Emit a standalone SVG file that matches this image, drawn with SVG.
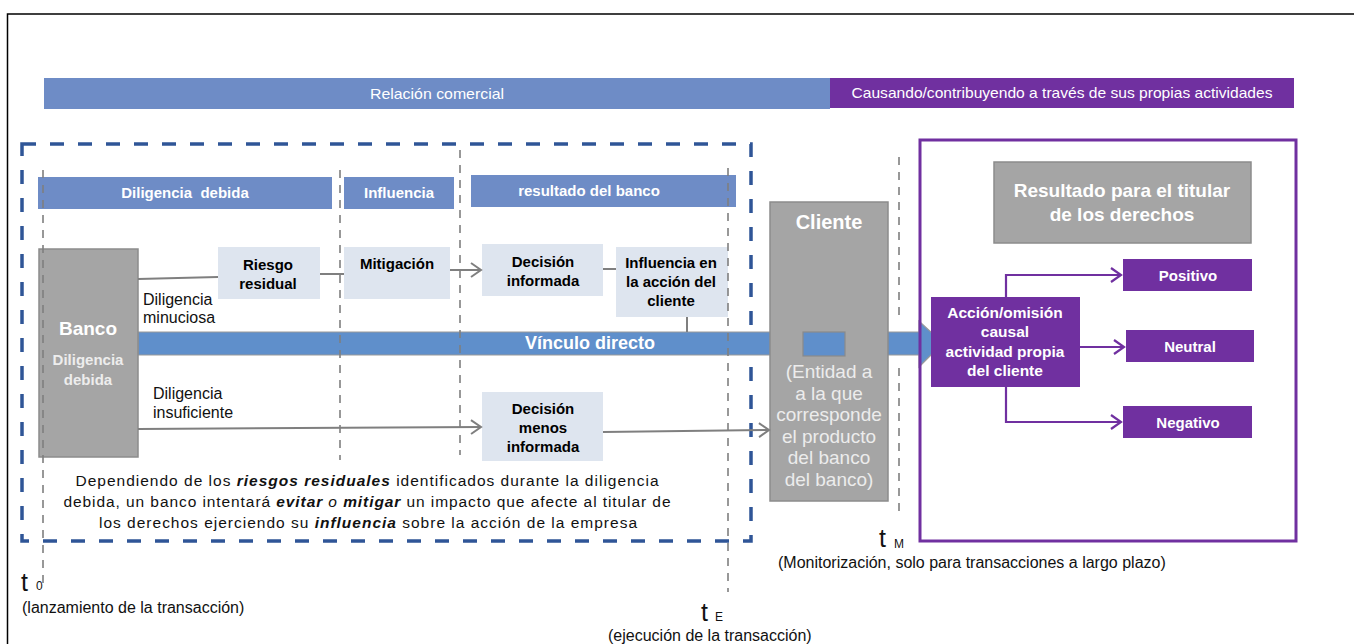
<svg xmlns="http://www.w3.org/2000/svg" width="1354" height="644" viewBox="0 0 1354 644">
<style>
text{font-family:"Liberation Sans",Arial,sans-serif}
.hb{fill:#6E8CC6}
.lb{fill:#DEE5EF}
.gb{fill:#A5A5A5;stroke:#8C8C8C;stroke-width:1.5}
.pb{fill:#7030A0}
.wt{fill:#fff;font-weight:bold;font-size:15px;text-anchor:middle}
.wr{fill:#fff;font-size:15px;text-anchor:middle}
.bt{fill:#000;font-weight:bold;font-size:15px;text-anchor:middle}
.rt{fill:#111;font-size:16px}
.tl{fill:none;stroke:#7F7F7F;stroke-width:1.6;stroke-dasharray:8 7}
.cn{fill:none;stroke:#7F7F7F;stroke-width:2}
.pc{fill:none;stroke:#7030A0;stroke-width:2.2}
.bi{font-weight:bold;font-style:italic}
.it{font-style:italic}
.lab{fill:#111;font-size:16px}
.tt{fill:#111;font-size:25px}
.ts{fill:#111;font-size:12px}
</style>
<defs>
<marker id="ag" markerUnits="userSpaceOnUse" markerWidth="14" markerHeight="16" refX="12" refY="8" orient="auto"><path d="M2,1 L12,8 L2,15" fill="none" stroke="#7F7F7F" stroke-width="2"/></marker>
<marker id="ap" markerUnits="userSpaceOnUse" markerWidth="14" markerHeight="16" refX="12" refY="8" orient="auto"><path d="M2,1 L12,8 L2,15" fill="none" stroke="#7030A0" stroke-width="2.2"/></marker>
</defs>
<rect x="0" y="0" width="1354" height="644" fill="#fff"/>
<rect x="7.5" y="14" width="1420" height="700" fill="none" stroke="#000" stroke-width="1.5"/>

<g id="bar-relacion">
<rect class="hb" x="44" y="78" width="786" height="31"/>
<text class="wr" x="437" y="99" textLength="134" lengthAdjust="spacingAndGlyphs">Relación comercial</text>
</g>
<g id="bar-causando">
<rect class="pb" x="830" y="78" width="464" height="30"/>
<text class="wr" x="1062" y="98" textLength="421" lengthAdjust="spacingAndGlyphs">Causando/contribuyendo a través de sus propias actividades</text>
</g>

<g id="zona-banco">
<rect x="22" y="144" width="729" height="397" fill="none" stroke="#2F5597" stroke-width="3.5" stroke-dasharray="14 14"/>
</g>

<g id="hdr-diligencia"><rect class="hb" x="38" y="177" width="294" height="32"/><text class="wt" x="185" y="198" xml:space="preserve">Diligencia  debida</text></g>
<g id="hdr-influencia"><rect class="hb" x="344" y="177" width="110" height="32"/><text class="wt" x="399" y="198">Influencia</text></g>
<g id="hdr-resultado"><rect class="hb" x="471" y="175" width="265" height="32"/><text class="wt" x="589" y="196">resultado del banco</text></g>

<g id="vinculo">
<polygon points="138,332 919,332 919,321 943,343 919,367 919,355 138,355" fill="#5F8FCB" stroke="#9A9A9A" stroke-width="1.2"/>
<text class="wt" x="590" y="349" style="font-size:18px">Vínculo directo</text>
</g>

<g id="banco">
<rect class="gb" x="39" y="249" width="99" height="208"/>
<text class="wt" x="88" y="335" style="font-size:19px">Banco</text>
<text class="wt" x="88" y="365" style="fill:#EDEDED">Diligencia</text>
<text class="wt" x="88" y="385" style="fill:#EDEDED">debida</text>
</g>

<g id="riesgo"><rect class="lb" x="218" y="247" width="102" height="52"/><text class="bt" x="268" y="270">Riesgo</text><text class="bt" x="268" y="289">residual</text></g>
<g id="mitigacion"><rect class="lb" x="344" y="247" width="106" height="52"/><text class="bt" x="397" y="269">Mitigación</text></g>
<g id="decision-informada"><rect class="lb" x="482" y="244" width="121" height="52"/><text class="bt" x="543" y="267">Decisión</text><text class="bt" x="543" y="286">informada</text></g>
<g id="influencia-accion"><rect class="lb" x="616" y="247" width="112" height="70"/><text class="bt" x="671" y="268">Influencia en</text><text class="bt" x="671" y="287">la acción del</text><text class="bt" x="671" y="306">cliente</text></g>
<g id="decision-menos"><rect class="lb" x="482" y="392" width="121" height="69"/><text class="bt" x="543" y="414">Decisión</text><text class="bt" x="543" y="433">menos</text><text class="bt" x="543" y="452">informada</text></g>

<g id="lbl-minuciosa"><text class="rt" x="143" y="305">Diligencia</text><text class="rt" x="143" y="323">minuciosa</text></g>
<g id="lbl-insuficiente"><text class="rt" x="153" y="399">Diligencia</text><text class="rt" x="153" y="418">insuficiente</text></g>

<g id="cliente">
<rect class="gb" x="770" y="202" width="118" height="299"/>
<text class="wt" x="829" y="229" style="font-size:20px">Cliente</text>
<rect x="803" y="332" width="42" height="24" fill="#5F8FCB" stroke="#8A8A8A" stroke-width="1.2"/>
<g fill="#ECECEC" font-size="19" text-anchor="middle">
<text x="829" y="378">(Entidad a</text>
<text x="829" y="400">a la que</text>
<text x="829" y="421">corresponde</text>
<text x="829" y="443">el producto</text>
<text x="829" y="464">del banco</text>
<text x="829" y="486">del banco)</text>
</g>
</g>

<g id="zona-titular">
<rect x="920" y="140" width="376" height="401" fill="none" stroke="#7030A0" stroke-width="3"/>
</g>
<g id="resultado-titular"><rect class="gb" x="994" y="162" width="257" height="81"/><text class="wt" x="1122" y="197" style="font-size:19px">Resultado para el titular</text><text class="wt" x="1122" y="221" style="font-size:19px">de los derechos</text></g>
<g id="accion-omision"><rect class="pb" x="931" y="297" width="149" height="90"/>
<text class="wt" x="1005" y="318" style="font-size:15.5px">Acción/omisión</text>
<text class="wt" x="1005" y="337" style="font-size:15.5px">causal</text>
<text class="wt" x="1005" y="357" style="font-size:15.5px">actividad propia</text>
<text class="wt" x="1005" y="376" style="font-size:15.5px">del cliente</text></g>
<g id="positivo"><rect class="pb" x="1123" y="259" width="129" height="32"/><text class="wt" x="1188" y="281">Positivo</text></g>
<g id="neutral"><rect class="pb" x="1126" y="330" width="128" height="32"/><text class="wt" x="1190" y="352">Neutral</text></g>
<g id="negativo"><rect class="pb" x="1123" y="406" width="129" height="32"/><text class="wt" x="1188" y="428">Negativo</text></g>

<g id="connectors">
<line class="cn" x1="138" y1="279" x2="218" y2="277"/>
<line class="cn" x1="320" y1="274" x2="344" y2="274"/>
<line class="cn" x1="450" y1="270" x2="481" y2="270" marker-end="url(#ag)"/>
<line class="cn" x1="603" y1="269" x2="616" y2="269"/>
<line class="cn" x1="687" y1="317" x2="687" y2="332"/>
<line class="cn" x1="138" y1="429" x2="481" y2="427" marker-end="url(#ag)"/>
<line class="cn" x1="603" y1="432" x2="769" y2="430" marker-end="url(#ag)"/>
<path class="pc" d="M1006,297 V275 H1121" marker-end="url(#ap)"/>
<path class="pc" d="M1080,347 H1124" marker-end="url(#ap)"/>
<path class="pc" d="M1006,387 V422 H1121" marker-end="url(#ap)"/>
</g>

<g id="timelines">
<line class="tl" x1="43" y1="170" x2="43" y2="590"/>
<line class="tl" x1="340" y1="170" x2="340" y2="460"/>
<line class="tl" x1="460" y1="150" x2="460" y2="455"/>
<line class="tl" x1="728" y1="168" x2="728" y2="592"/>
<line class="tl" x1="899" y1="157" x2="899" y2="321"/>
<line class="tl" x1="899" y1="368" x2="899" y2="513"/>
</g>

<g id="nota" font-size="15.5" fill="#111" text-anchor="middle">
<text x="367" y="486" textLength="583" lengthAdjust="spacing">Dependiendo de los <tspan class="bi">riesgos residuales</tspan> identificados durante la diligencia</text>
<text x="367" y="507" textLength="607" lengthAdjust="spacing">debida, un banco intentará <tspan class="bi">evitar</tspan> <tspan class="it">o</tspan> <tspan class="bi">mitigar</tspan> un impacto que afecte al titular de</text>
<text x="368" y="528" textLength="538" lengthAdjust="spacing">los derechos ejerciendo su <tspan class="bi">influencia</tspan> sobre la acción de la empresa</text>
</g>

<g id="t0"><text class="tt" x="21" y="591">t</text><text class="ts" x="36" y="590">0</text>
<text class="lab" x="22" y="613">(lanzamiento de la transacción)</text></g>
<g id="tE"><text class="tt" x="701" y="621">t</text><text class="ts" x="715" y="621">E</text>
<text class="lab" x="608" y="641">(ejecución de la transacción)</text></g>
<g id="tM"><text class="tt" x="879" y="547">t</text><text class="ts" x="894" y="548">M</text>
<text class="lab" x="778" y="568">(Monitorización, solo para transacciones a largo plazo)</text></g>
</svg>
